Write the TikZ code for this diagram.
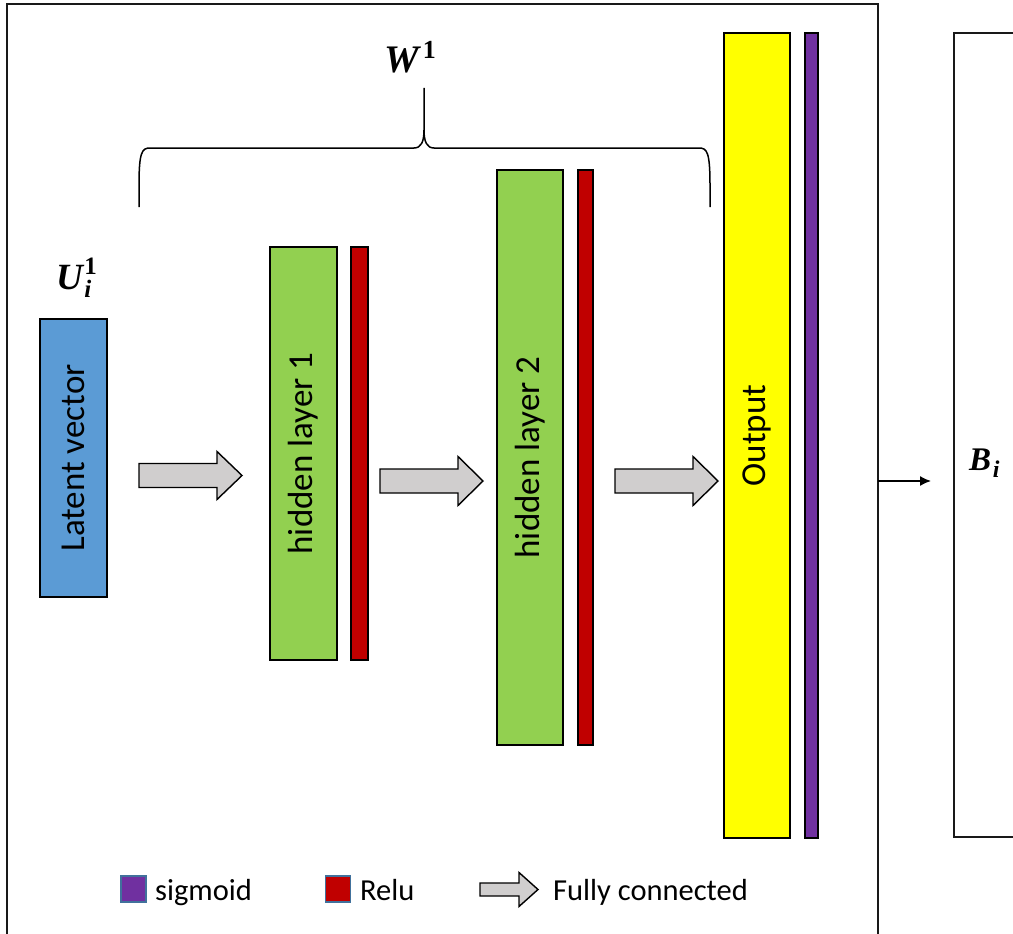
\documentclass[tikz,border=0pt]{standalone}
\usepackage{fontspec}
\setmainfont{Carlito}
\newfontfamily\labelserif{Liberation Serif}
\usetikzlibrary{arrows.meta}

\definecolor{latentblue}{HTML}{5B9BD5}
\definecolor{layergreen}{HTML}{92D050}
\definecolor{relured}{HTML}{C00000}
\definecolor{outyellow}{HTML}{FFFF00}
\definecolor{sigpurple}{HTML}{7030A0}
\definecolor{arrowgray}{HTML}{D0CECE}
\definecolor{keyedge}{HTML}{41719C}

% block arrow: name, tail x, neck x, tip x, centre y, half body, half head
\newcommand\fcarrow[7]{%
  \draw[fc] (#2,{#5-#6}) -- (#3,{#5-#6}) -- (#3,{#5-#7}) -- (#4,#5)
    -- (#3,{#5+#7}) -- (#3,{#5+#6}) -- (#2,{#5+#6}) -- cycle;
  \coordinate (#1) at ({(#2+#4)/2},#5);}

\begin{document}
\begin{tikzpicture}[x=1pt,y=-1pt,
  bar/.style={draw=black, line width=1.3pt, inner sep=0pt, rotate=90,
    font=\fontsize{35}{40}\selectfont},
  fc/.style={draw=black, line width=1.4pt, fill=arrowgray, line join=miter},
  frame/.style={draw=black!90, line width=1.8pt},
  brace/.style={draw=black, line width=1.5pt},
  mathlabel/.style={inner sep=0pt, font=\labelserif\bfseries\itshape},
  keybox/.style={draw=keyedge, line width=1.2pt, inner sep=0pt,
    minimum width=25pt, minimum height=26pt},
  keytext/.style={anchor=base west, inner sep=0pt, font=\fontsize{30.5}{34}\selectfont}
]
\clip (0,0) rectangle (1013,934);

% outer frame of the decoder and the target box
\draw[frame] (7,950) -- (7,4) -- (878,4) -- (878,950);
\draw[frame] (1030,33) -- (954,33) -- (954,837) -- (1030,837);

% layers
\node[bar, fill=latentblue, minimum width=278pt, minimum height=67pt]
  (lat) at (73.5,458) {Latent vector};
\node[bar, fill=layergreen, minimum width=413pt, minimum height=67pt]
  (h1) at (303.5,453.5) {hidden layer 1};
\node[bar, fill=relured, minimum width=413pt, minimum height=17pt]
  (r1) at (359.5,453.5) {};
\node[bar, fill=layergreen, minimum width=575pt, minimum height=66pt]
  (h2) at (530,457.5) {hidden layer 2};
\node[bar, fill=relured, minimum width=575pt, minimum height=15pt]
  (r2) at (585.5,457.5) {};
\node[bar, fill=outyellow, minimum width=805pt, minimum height=66pt]
  (out) at (757,435.5) {Output};
\node[bar, fill=sigpurple, minimum width=805pt, minimum height=13pt]
  (sg) at (811.5,435.5) {};

% fully connected block arrows
\fcarrow{fc1}{139}{217}{242}{475.5}{12}{24}
\fcarrow{fc2}{380}{458}{483}{481}{12}{24.5}
\fcarrow{fc3}{615}{693}{718}{481}{12}{24.5}

% brace over the weights
\draw[brace] (139,207) -- (139,185)
  .. controls (139,152) and (142,148) .. (150,148) -- (414,148)
  .. controls (421,148) and (424,142) .. (424,130) -- (424,88)
  (424,130) .. controls (424,142) and (427,148) .. (434,148) -- (699,148)
  .. controls (707,148) and (710,152) .. (710,185) -- (710,207);

% labels
\node[mathlabel, anchor=base west] (w) at (384,73)
  {\fontsize{39}{44}\selectfont W\kern0.1em\raisebox{0.36em}{\upshape\fontsize{26}{28}\selectfont 1}};
\node[mathlabel, anchor=base west] (u) at (56,289)
  {\fontsize{37}{42}\selectfont U\kern0.04em\rlap{\raisebox{0.38em}{\upshape\fontsize{25}{27}\selectfont 1}}%
   \raisebox{-0.24em}{\fontsize{25}{27}\selectfont i}};
\node[mathlabel, anchor=base west] (b) at (969,470)
  {\fontsize{33}{38}\selectfont B\kern0.05em\raisebox{-0.22em}{\fontsize{24}{26}\selectfont i}};

% output handed to the target
\coordinate (fr) at (878,481);
\coordinate (bt) at (931,481);
\draw[line width=1.5pt, -{Latex[length=11pt,width=10pt]}] (fr) -- (bt);

% legend
\node[keybox, fill=sigpurple] (ks) at (133.5,889) {};
\node[keytext] (ts) at (155,900) {sigmoid};
\node[keybox, fill=relured] (kr) at (338,889) {};
\node[keytext] (tr) at (360,900) {Relu};
\fcarrow{kf}{480}{519}{538}{889.5}{6.5}{17}
\node[keytext] (tf) at (553,900) {Fully connected};
\end{tikzpicture}
\end{document}
